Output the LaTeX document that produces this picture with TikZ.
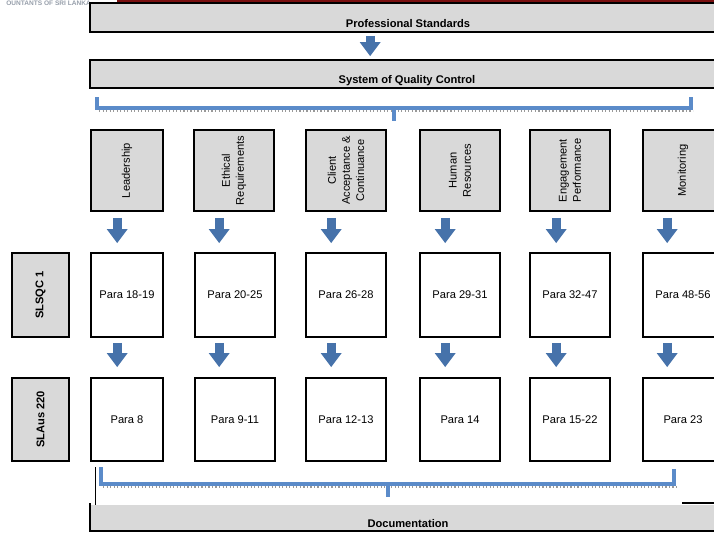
\documentclass[tikz,border=0pt]{standalone}
\usepackage{fontspec}
\setmainfont{Liberation Sans}
\usepackage{tikz}
\usetikzlibrary{arrows.meta, positioning, calc}
\definecolor{qcgray}{HTML}{D9D9D9}
\definecolor{qcblue}{HTML}{4672AA}
\definecolor{qcbracket}{HTML}{5B8BC9}
\definecolor{qcred}{HTML}{7A1010}

\begin{document}
\begin{tikzpicture}[x=0.03cm, y=-0.03cm,
    bar/.style={rectangle, fill=qcgray, draw=black, line width=1.4pt,
                minimum width=18.9cm, inner sep=0pt},
    bartext/.style={font=\fontsize{9.5}{11}\selectfont\bfseries},
    area/.style={rectangle, fill=qcgray, draw=black, line width=1.4pt,
                 minimum width=2.43cm, inner sep=0pt, rotate=90, align=center,
                 font=\fontsize{9.5}{12}\selectfont},
    para/.style={rectangle, fill=white, draw=black, line width=1.4pt,
                 minimum width=2.4cm, inner sep=0pt,
                 font=\fontsize{9.5}{11}\selectfont},
    std/.style={rectangle, fill=qcgray, draw=black, line width=1.4pt,
                minimum height=1.71cm, inner sep=0pt, rotate=90,
                font=\fontsize{9.5}{11}\selectfont\bfseries},
    blockarrow/.style={qcblue, line width=7.5pt,
                       -{Triangle[width=17pt, length=12pt]}},
    bracket/.style={qcbracket, line width=3pt, line join=miter},
    shadow/.style={gray!80, line width=1pt, dotted}
  ]
    \useasboundingbox (0,0) rectangle (714,533);
    \clip (0,0) rectangle (714,533);
    % header remains
    \fill[qcred] (117,-2) rectangle (720,3);
    \node[font=\fontsize{5.6}{6}\selectfont\bfseries, color={rgb,255:red,150;green,158;blue,170},
          anchor=base east, inner sep=0pt] (logo) at (91,5.5) {OUNTANTS OF SRI LANKA};
    % Top bars
    \node[bar, minimum height=0.87cm] (ps) at (405,17.5) {};
    \node[bartext] (pslabel) at (408,24) {Professional Standards};
    \node[bar, minimum height=0.84cm] (sqc) at (405,74) {};
    \node[bartext] (sqclabel) at (407,81) {System of Quality Control};
    \draw[blockarrow] ($(ps.south west)+(281,3)$) -- ($(sqc.north west)+(281,-3)$);
    % Top bracket
    \draw[shadow] (99,111) -- (693,111);
    \draw[bracket] (97,97) -- (97,108) -- (691,108) -- (691,97);
    \draw[bracket] (394,108) -- (394,121);
    % Elements (y=130..211), rotated: north west is the lower left corner
    \node[area, minimum height=2.16cm] (lead)   at (127,170.5) {Leadership};
    \node[area, minimum height=2.4cm]  (ethic)  at (234,170.5) {Ethical\\Requirements};
    \node[area, minimum height=2.4cm]  (client) at (346,170.5) {Client\\Acceptance \&\\Continuance};
    \node[area, minimum height=2.4cm]  (human)  at (460,170.5) {Human\\Resources};
    \node[area, minimum height=2.4cm]  (engage) at (570,170.5) {Engagement\\Performance};
    \node[area, minimum height=2.4cm]  (monit)  at (683,170.5) {Monitoring};
    % SLSQC 1 row (y=253..337)
    \node[std, minimum width=2.52cm] (slsqc) at (40.5,295) {SLSQC 1};
    \node[para, minimum height=2.52cm, minimum width=2.16cm] (q1) at (127,295) {Para 18-19};
    \node[para, minimum height=2.52cm] (q2) at (235,295) {Para 20-25};
    \node[para, minimum height=2.52cm] (q3) at (346,295) {Para 26-28};
    \node[para, minimum height=2.52cm] (q4) at (460,295) {Para 29-31};
    \node[para, minimum height=2.52cm] (q5) at (570,295) {Para 32-47};
    \node[para, minimum height=2.52cm] (q6) at (683,295) {Para 48-56};
    % SLAus 220 row (y=378..461)
    \node[std, minimum width=2.49cm] (slaus) at (40.5,419.5) {SLAus 220};
    \node[para, minimum height=2.49cm, minimum width=2.16cm] (a1) at (127,419.5) {Para 8};
    \node[para, minimum height=2.49cm] (a2) at (235,419.5) {Para 9-11};
    \node[para, minimum height=2.49cm] (a3) at (346,419.5) {Para 12-13};
    \node[para, minimum height=2.49cm] (a4) at (460,419.5) {Para 14};
    \node[para, minimum height=2.49cm] (a5) at (570,419.5) {Para 15-22};
    \node[para, minimum height=2.49cm] (a6) at (683,419.5) {Para 23};
    % Arrows: element -> SLSQC 1
    \draw[blockarrow] ($(lead.north west)+(27,6)$)   -- ($(q1.north west)+(27,-9)$);
    \draw[blockarrow] ($(ethic.north west)+(26,6)$)  -- ($(q2.north west)+(25,-9)$);
    \draw[blockarrow] ($(client.north west)+(26,6)$) -- ($(q3.north west)+(26,-9)$);
    \draw[blockarrow] ($(human.north west)+(26,6)$)  -- ($(q4.north west)+(26,-9)$);
    \draw[blockarrow] ($(engage.north west)+(27,6)$) -- ($(q5.north west)+(27,-9)$);
    \draw[blockarrow] ($(monit.north west)+(25,6)$)  -- ($(q6.north west)+(25,-9)$);
    % Arrows: SLSQC 1 -> SLAus 220
    \draw[blockarrow] ($(q1.south west)+(27,5)$) -- ($(a1.north west)+(27,-10)$);
    \draw[blockarrow] ($(q2.south west)+(25,5)$) -- ($(a2.north west)+(25,-10)$);
    \draw[blockarrow] ($(q3.south west)+(26,5)$) -- ($(a3.north west)+(26,-10)$);
    \draw[blockarrow] ($(q4.south west)+(26,5)$) -- ($(a4.north west)+(26,-10)$);
    \draw[blockarrow] ($(q5.south west)+(27,5)$) -- ($(a5.north west)+(27,-10)$);
    \draw[blockarrow] ($(q6.south west)+(25,5)$) -- ($(a6.north west)+(25,-10)$);
    % Documentation
    \fill[qcgray] (90,505) rectangle (720,531);
    \node[bartext] (doc) at (408,524) {Documentation};
    \draw[line width=1.4pt] (90,503) -- (90,531) -- (720,531);
    \draw[line width=1.4pt] (682,503) -- (720,503);
    \draw[line width=0.6pt] (95,467) -- (95,505);
    % Bottom bracket
    \draw[shadow] (103,487) -- (676,487);
    \draw[bracket] (101,467) -- (101,484) -- (674,484) -- (674,469);
    \draw[bracket] (388,484) -- (388,497);
  \end{tikzpicture}
\end{document}
